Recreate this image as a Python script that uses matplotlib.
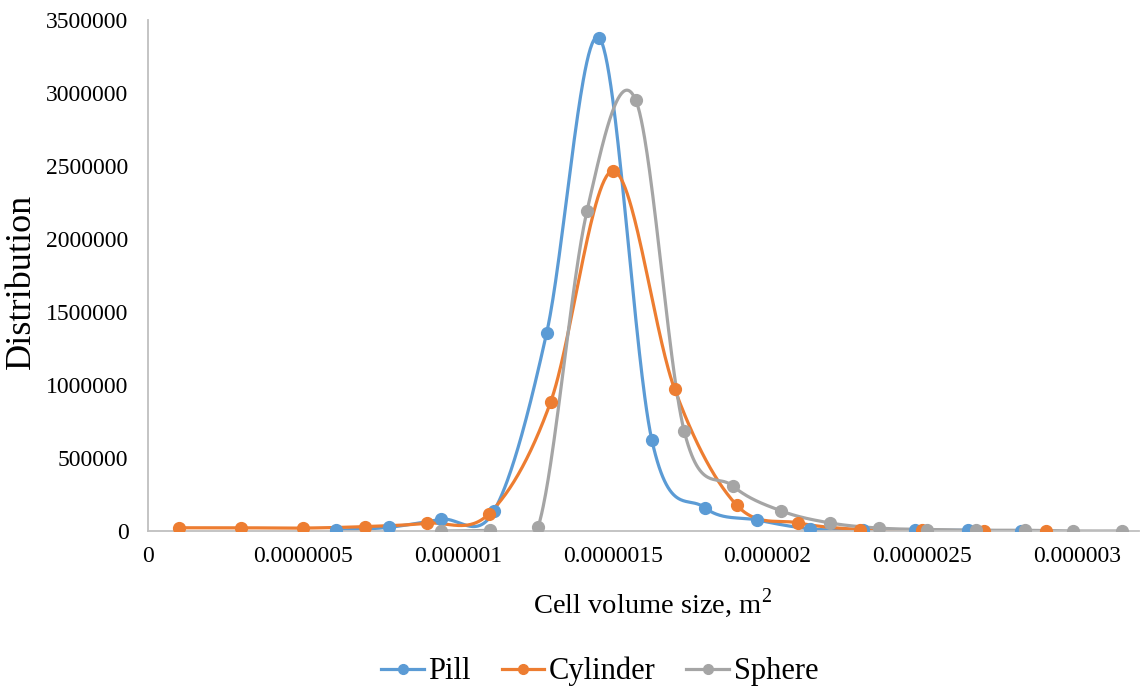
import numpy as np
import matplotlib
matplotlib.use("Agg")
import matplotlib.pyplot as plt
from matplotlib.lines import Line2D

# Cell volume and distribution values per shape
pill_x = [0.607e-6, 0.777e-6, 0.947e-6, 1.117e-6, 1.287e-6, 1.457e-6, 1.627e-6,
          1.797e-6, 1.967e-6, 2.137e-6, 2.307e-6, 2.477e-6, 2.647e-6, 2.817e-6]
pill_y = [5000, 25000, 80000, 137000, 1356000, 3377000, 620000,
          160000, 75000, 15000, 5000, 5000, 5000, 0]

cyl_x = [0.1e-6, 0.3e-6, 0.5e-6, 0.7e-6, 0.9e-6, 1.1e-6, 1.3e-6, 1.5e-6,
         1.7e-6, 1.9e-6, 2.1e-6, 2.3e-6, 2.5e-6, 2.7e-6, 2.9e-6]
cyl_y = [22000, 22000, 20000, 30000, 53000, 116000, 884000, 2466000,
         973000, 178000, 55000, 10000, 5000, 0, 0]

sph_x = [0.946e-6, 1.103e-6, 1.260e-6, 1.417e-6, 1.574e-6, 1.731e-6, 1.888e-6,
         2.045e-6, 2.202e-6, 2.359e-6, 2.516e-6, 2.673e-6, 2.830e-6, 2.987e-6, 3.144e-6]
sph_y = [0, 5000, 30000, 2190000, 2955000, 685000, 308000,
         137000, 55000, 20000, 10000, 5000, 5000, 0, 0]

series_names = ["Pill", "Cylinder", "Sphere"]
colors = ["#5B9BD5", "#ED7D31", "#A5A5A5"]

x_ticks = [0, 0.5e-6, 1e-6, 1.5e-6, 2e-6, 2.5e-6, 3e-6]
x_tick_labels = ["0", "0.0000005", "0.000001", "0.0000015", "0.000002", "0.0000025", "0.000003"]
y_ticks = [0, 500000, 1000000, 1500000, 2000000, 2500000, 3000000, 3500000]
y_tick_labels = [str(v) for v in y_ticks]


def smooth(xs, ys, n=60):
    """Catmull-Rom style cubic Bezier through every point."""
    P = np.column_stack([xs, ys]).astype(float)
    # normalise so the spline behaves the same in x and y
    sx = 1e-6
    sy = 1e6
    P = P / [sx, sy]
    out = []
    t = np.linspace(0, 1, n)[:, None]
    for i in range(len(P) - 1):
        p0 = P[i - 1] if i > 0 else P[i]
        p1 = P[i]
        p2 = P[i + 1]
        p3 = P[i + 2] if i + 2 < len(P) else P[i + 1]
        c1 = p1 + (p2 - p0) / 6
        c2 = p2 - (p3 - p1) / 6
        seg = (1 - t) ** 3 * p1 + 3 * (1 - t) ** 2 * t * c1 + 3 * (1 - t) * t ** 2 * c2 + t ** 3 * p2
        out.append(seg if i == 0 else seg[1:])
    S = np.vstack(out) * [sx, sy]
    return S[:, 0], S[:, 1]


plt.rcParams["font.family"] = ["Liberation Serif", "DejaVu Serif"]
plt.rcParams["mathtext.fontset"] = "custom"
plt.rcParams["mathtext.rm"] = "Liberation Serif"

fig = plt.figure(figsize=(11.4, 6.93), dpi=100)
ax = fig.add_axes([0.1298, 0.2338, 0.8695, 0.7373])

data = [(pill_x, pill_y), (cyl_x, cyl_y), (sph_x, sph_y)]
for (xs, ys), c, name in zip(data, colors, series_names):
    sx, sy = smooth(xs, ys)
    ax.plot(sx, sy, color=c, lw=2.3, solid_capstyle="round", zorder=2)
    ax.plot(xs, ys, "o", color=c, ms=8.5, mec=c, zorder=3)

ax.set_xlim(0, 3.2e-6)
ax.set_ylim(0, 3500000)
ax.set_xticks(x_ticks)
ax.set_xticklabels(x_tick_labels)
ax.set_yticks(y_ticks)
ax.set_yticklabels(y_tick_labels)
ax.tick_params(length=0, labelsize=17, colors="#000000")
ax.tick_params(axis="y", pad=14)
ax.tick_params(axis="x", pad=11)

for s in ["top", "right"]:
    ax.spines[s].set_visible(False)
for s in ["left", "bottom"]:
    ax.spines[s].set_color("#BFBFBF")
    ax.spines[s].set_linewidth(1.3)

ax.set_xlabel("Cell volume size, m$^\\mathrm{2}$", fontsize=20.5)
ax.xaxis.set_label_coords(0.509, -0.108)
ax.set_ylabel("Distribution", fontsize=26)
ax.yaxis.set_label_coords(-0.111, 0.489)

handles = [Line2D([0], [0], color=c, lw=2.3, marker="o", ms=7) for c in colors]
fig.legend(handles, series_names, loc="center", bbox_to_anchor=(0.526, 0.031),
           ncol=3, frameon=False, fontsize=22, handlelength=1.4,
           columnspacing=1.0, handletextpad=0.15)

fig.savefig("out.png", dpi=100)
